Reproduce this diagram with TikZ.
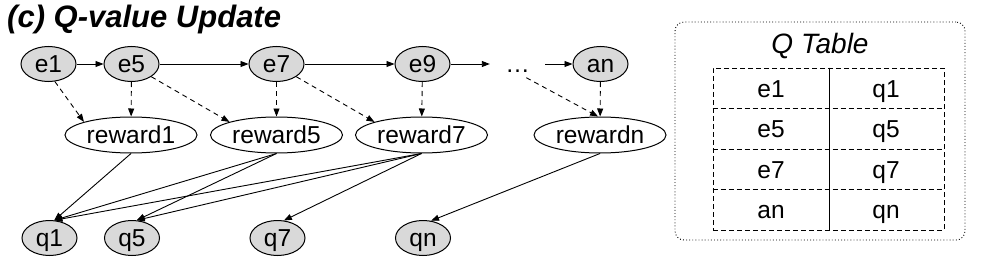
\documentclass[tikz,border=0pt]{standalone}
\usepackage{fontspec}
\setmainfont{Liberation Sans}
\usetikzlibrary{shapes.geometric,arrows.meta}
\begin{document}
\begin{tikzpicture}[x=1pt,y=-1pt,
  txt/.style={font=\fontsize{24.5}{24.5}\selectfont,text height=17.5pt,text depth=0pt},
  enode/.style={ellipse,draw,line width=1pt,fill=black!15,minimum width=55pt,minimum height=35pt,inner sep=0pt,txt},
  rnode/.style={ellipse,draw,line width=1pt,fill=white,minimum width=132pt,minimum height=36pt,inner sep=0pt,txt},
  arr/.style={-{Triangle[length=8pt,width=6pt]},line width=0.9pt},
  darr/.style={arr,dash pattern=on 5pt off 4pt},
  cell/.style={txt,inner sep=0pt},
  tline/.style={line width=0.9pt,dash pattern=on 5pt off 3pt},
]
\useasboundingbox (0,0) rectangle (982,262);
\node[anchor=base west,inner sep=0pt,font=\fontsize{31}{31}\selectfont\bfseries\itshape] (title) at (7,28) {(c) Q-value Update};
% top row
\node[enode] (e1) at (48.5,64) {e1};
\node[enode] (e5) at (131.5,64) {e5};
\node[enode] (e7) at (276.5,64) {e7};
\node[enode] (e9) at (422.5,64) {e9};
\node[txt,minimum width=55pt,inner sep=0pt] (dots) at (517.5,64) {…};
\node[enode] (an) at (600.5,64) {an};
% rewards
\node[rnode] (reward1) at (131,135) {reward1};
\node[rnode] (reward5) at (276.5,135) {reward5};
\node[rnode] (reward7) at (421.5,135) {reward7};
\node[rnode] (rewardn) at (600,135) {rewardn};
% q row
\node[enode] (q1) at (49.5,238) {q1};
\node[enode] (q5) at (132,238) {q5};
\node[enode] (q7) at (277.5,238) {q7};
\node[enode] (qn) at (423,238) {qn};
% chain
\draw[arr] (e1) -- (e5);
\draw[arr] (e5) -- (e7);
\draw[arr] (e7) -- (e9);
\draw[arr] (e9) -- (dots);
\draw[arr] (dots) -- (an);
% dashed
\draw[darr] (e1.-70) -- (reward1.north west);
\draw[darr] (e5) -- (reward1);
\draw[darr] (e5.south east) -- (reward5.north west);
\draw[darr] (e7) -- (reward5);
\draw[darr] (e7.south east) -- (reward7.north west);
\draw[darr] (e9) -- (reward7);
\draw[darr,shorten <=10pt] (dots.south) -- (rewardn.96);
\draw[darr] (an) -- (rewardn);
% reward to q
\draw[arr] (reward1.south) -- (q1.75);
\draw[arr] (reward5.south) -- (q1.75);
\draw[arr] (reward5.south) -- (q5.75);
\draw[arr] (reward7.south) -- (q1.75);
\draw[arr] (reward7.south) -- (q5.75);
\draw[arr] (reward7.south) -- (q7.70);
\draw[arr] (rewardn.south) -- (qn.65);
% Q table
\node[draw,line width=0.9pt,dash pattern=on 0.9pt off 2.2pt,rounded corners=9pt,minimum width=290pt,minimum height=218pt,inner sep=0pt] (frame) at (820,131) {};
\node[anchor=base,inner sep=0pt,font=\fontsize{28}{28}\selectfont\itshape] (qtitle) at (820,54) {Q Table};
\node[draw,tline,minimum width=231pt,minimum height=162pt,inner sep=0pt] (tbl) at (828.5,149) {};
\foreach \yy in {108.5,149,189.5}{
  \draw[tline] (tbl.west |- 0,\yy) -- (tbl.east |- 0,\yy);
}
\draw[line width=0.9pt] (829,0 |- tbl.north) -- (829,0 |- tbl.south);
\node[cell] (k1) at (771,88.5) {e1};
\node[cell] (v1) at (886,88.5) {q1};
\node[cell] (k2) at (771,129) {e5};
\node[cell] (v2) at (886,129) {q5};
\node[cell] (k3) at (771,169.5) {e7};
\node[cell] (v3) at (886,169.5) {q7};
\node[cell] (k4) at (771,210) {an};
\node[cell] (v4) at (886,210) {qn};
\end{tikzpicture}
\end{document}
